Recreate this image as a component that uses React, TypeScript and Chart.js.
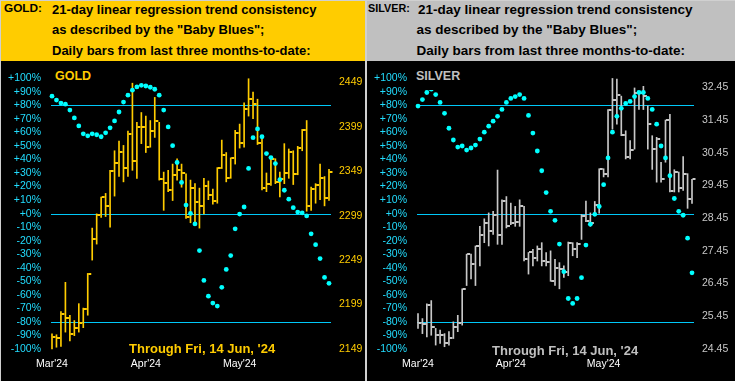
import React, { useEffect, useRef } from "react";
import { Chart, registerables } from "chart.js";

Chart.register(...registerables);

const FONT = '"Liberation Sans", Arial, Helvetica, sans-serif';

// ---- categories / ticks ----
const sessions: string[] = Array.from({ length: 63 }, (_, i) => `Session ${i + 1}`);
const monthTickLabels = ["Mar'24", "Apr'24", "May'24"];
const monthTickIndex = [0, 21, 42];
const pctTicks = [-100, -90, -80, -70, -60, -50, -40, -30, -20, -10, 0, 10, 20, 30, 40, 50, 60, 70, 80, 90, 100];
const refLevels = [80, 0, -80];
const goldPriceTicks = [2149, 2199, 2249, 2299, 2349, 2399, 2449];
const silverPriceTicks = [24.45, 25.45, 26.45, 27.45, 28.45, 29.45, 30.45, 31.45, 32.45];

// ---- GOLD daily bars ----
const goldHigh = [2166, 2165, 2191, 2224, 2187, 2181, 2200, 2195, 2234, 2285, 2301, 2320, 2324, 2350, 2372, 2383, 2378, 2394, 2448, 2404, 2415, 2411, 2406, 2432, 2404, 2348, 2350, 2357, 2363, 2357, 2346, 2339, 2335, 2330, 2341, 2338, 2329, 2353, 2384, 2370, 2364, 2395, 2402, 2426, 2453, 2438, 2430, 2387, 2347, 2364, 2363, 2348, 2380, 2374, 2372, 2377, 2396, 2406, 2331, 2335, 2357, 2343, 2351];
const goldLow = [2149, 2151, 2152, 2168, 2158, 2164, 2168, 2173, 2187, 2249, 2267, 2297, 2298, 2286, 2321, 2343, 2337, 2343, 2350, 2341, 2380, 2370, 2376, 2387, 2339, 2305, 2326, 2316, 2339, 2331, 2296, 2291, 2291, 2285, 2301, 2317, 2312, 2313, 2352, 2337, 2341, 2357, 2375, 2376, 2411, 2408, 2379, 2328, 2326, 2333, 2335, 2320, 2335, 2341, 2334, 2345, 2372, 2304, 2305, 2313, 2317, 2310, 2316];
const goldClose = [2163, 2161, 2188, 2184, 2166, 2173, 2178, 2194, 2233, 2273, 2300, 2320, 2310, 2349, 2358, 2371, 2353, 2391, 2360, 2399, 2399, 2376, 2394, 2406, 2340, 2336, 2328, 2345, 2350, 2347, 2297, 2330, 2314, 2310, 2332, 2322, 2316, 2353, 2367, 2341, 2364, 2392, 2381, 2419, 2430, 2425, 2381, 2330, 2335, 2363, 2337, 2340, 2347, 2371, 2346, 2375, 2395, 2310, 2329, 2333, 2341, 2319, 2348];
const goldBlues = [86.8, 83.9, 81.7, 80.9, 76.5, 70.7, 64.8, 59.0, 57.5, 59.0, 58.3, 56.8, 59.7, 63.4, 68.5, 75.1, 82.4, 87.5, 91.2, 93.6, 94.8, 94.3, 93.4, 91.9, 87.5, 76.5, 64.1, 50.2, 37.8, 23.1, 6.3, 0.2, -7.6, -27.3, -49.3, -61.0, -66.1, -68.3, -54.4, -41.2, -31.0, -11.2, -0.3, 4.9, 33.4, 56.1, 62.6, 56.8, 44.4, 41.4, 37.0, 25.1, 17.3, 10.7, 4.4, 1.2, 0.5, -1.7, -14.9, -22.9, -33.2, -47.1, -51.5];

// ---- SILVER daily bars ----
const silverHigh = [25.53, 25.38, 25.83, 25.93, 25.08, 25.03, 24.92, 24.98, 25.28, 25.48, 26.29, 27.35, 27.35, 27.60, 28.20, 28.43, 28.61, 28.66, 29.92, 29.01, 29.11, 28.91, 28.81, 29.01, 28.81, 27.40, 27.50, 27.60, 27.70, 27.40, 27.45, 27.19, 27.09, 26.99, 27.72, 27.70, 27.70, 28.56, 28.97, 28.61, 28.96, 29.96, 29.96, 31.77, 32.72, 32.70, 32.18, 31.12, 30.82, 32.43, 32.33, 32.48, 31.88, 30.97, 30.92, 30.16, 31.45, 31.62, 29.93, 29.86, 30.33, 29.81, 29.64];
const silverLow = [25.08, 24.92, 24.82, 24.87, 24.57, 24.62, 24.52, 24.57, 24.77, 24.98, 25.18, 26.39, 26.59, 26.39, 26.99, 27.70, 27.60, 27.95, 27.65, 27.65, 28.15, 28.25, 28.20, 28.20, 27.14, 26.74, 26.99, 27.14, 26.99, 26.99, 26.52, 26.39, 26.29, 26.64, 26.69, 27.30, 27.24, 27.80, 28.34, 28.20, 28.61, 28.60, 29.71, 29.71, 31.17, 31.32, 30.97, 30.26, 30.26, 30.56, 31.77, 31.77, 30.56, 29.94, 29.55, 29.55, 30.16, 29.25, 29.25, 29.25, 29.30, 28.75, 28.90];
const silverClose = [25.23, 25.20, 25.80, 25.13, 24.87, 24.87, 24.62, 24.79, 25.13, 25.23, 26.27, 27.35, 27.04, 27.60, 27.95, 28.30, 28.05, 28.56, 27.95, 28.96, 28.20, 28.30, 28.32, 28.81, 27.21, 27.40, 27.24, 27.50, 27.14, 27.11, 26.54, 26.94, 26.91, 26.79, 27.70, 27.50, 27.65, 28.53, 28.37, 28.30, 28.86, 29.94, 29.81, 31.77, 32.05, 32.20, 30.99, 30.31, 30.53, 32.28, 32.28, 32.18, 31.32, 30.56, 30.87, 29.64, 31.44, 29.27, 29.86, 29.37, 29.81, 29.03, 29.64];
const silverBlues = [79.5, 84.3, 89.5, 92.0, 88.0, 82.2, 74.1, 63.1, 54.4, 49.2, 50.0, 47.0, 48.5, 50.7, 55.1, 60.2, 64.6, 68.3, 71.9, 77.0, 82.2, 85.1, 86.5, 88.0, 85.1, 72.6, 59.5, 46.3, 31.7, 15.6, 1.7, -4.9, -22.5, -42.9, -62.7, -66.3, -62.7, -47.3, -23.2, -7.8, -0.5, 5.3, 21.4, 41.2, 60.2, 71.9, 77.8, 81.4, 82.9, 86.5, 89.5, 89.5, 85.1, 77.0, 66.1, 50.0, 41.2, 28.0, 11.2, 1.7, -1.2, -18.1, -43.7];

const GOLD = "#FFCC00";
const SILVER = "#C8C8C8";
const CYAN_DOT = "#00FFFF";
const CYAN_LINE = "#00C8F8";
const CYAN_TEXT = "#22DDFF";

// reference lines at +80%, 0%, -80% drawn through the percent scale
const refLinePlugin = {
  id: "refLines",
  beforeDatasetsDraw(chart: any) {
    const s = chart.scales.yPct;
    const a = chart.chartArea;
    const ctx = chart.ctx;
    ctx.save();
    ctx.strokeStyle = CYAN_LINE;
    ctx.lineWidth = 1;
    refLevels.forEach((v) => {
      const y = Math.round(s.getPixelForValue(v)) + 0.5;
      ctx.beginPath();
      ctx.moveTo(a.left - 1, y);
      ctx.lineTo(a.right + 2, y);
      ctx.stroke();
    });
    ctx.restore();
  },
};

type PanelProps = {
  high: number[];
  low: number[];
  close: number[];
  blues: number[];
  priceMin: number;
  priceMax: number;
  priceTicks: number[];
  decimals: number;
  color: string;
  width: number;
  rightWidth: number;
  rightPad: number;
};

function PanelChart(p: PanelProps) {
  const ref = useRef<HTMLCanvasElement>(null);
  useEffect(() => {
    const tick = document.createElement("canvas");
    tick.width = 9;
    tick.height = 2;
    const g = tick.getContext("2d")!;
    g.fillStyle = p.color;
    g.fillRect(5, 0, 3, 2);

    const chart = new Chart(ref.current!, {
      type: "bar",
      data: {
        labels: sessions,
        datasets: [
          {
            type: "line",
            label: "Baby Blues",
            data: p.blues,
            yAxisID: "yPct",
            showLine: false,
            pointRadius: 2.4,
            pointBackgroundColor: CYAN_DOT,
            pointBorderWidth: 0,
            order: 0,
            clip: false,
          } as any,
          {
            type: "line",
            label: "Close",
            data: p.close,
            yAxisID: "yPrice",
            showLine: false,
            pointStyle: tick,
            pointRadius: 4,
            order: 1,
            clip: false,
          } as any,
          {
            type: "bar",
            label: "High-Low",
            data: p.low.map((l, i) => [l, p.high[i]]),
            yAxisID: "yPrice",
            backgroundColor: p.color,
            barThickness: 1,
            order: 2,
            clip: false,
          } as any,
        ],
      },
      plugins: [refLinePlugin],
      options: {
        responsive: false,
        animation: false,
        devicePixelRatio: 1,
        events: [],
        layout: { padding: { top: 14, left: 0, right: 0, bottom: 0 } },
        plugins: { legend: { display: false }, tooltip: { enabled: false } },
        scales: {
          x: {
            type: "category",
            offset: false,
            grid: { display: false, drawTicks: false },
            border: { display: false },
            ticks: {
              autoSkip: false,
              maxRotation: 0,
              minRotation: 0,
              padding: 9,
              color: "#FFFFFF",
              font: { family: FONT, size: 10.5 },
              callback: (_v: any, i: number) => {
                const k = monthTickIndex.indexOf(i);
                return k >= 0 ? monthTickLabels[k] : "";
              },
            },
            afterFit: (s: any) => {
              s.height = 32;
            },
          },
          yPct: {
            type: "linear",
            position: "left",
            min: -100,
            max: 100,
            afterBuildTicks: (s: any) => {
              s.ticks = pctTicks.map((v) => ({ value: v }));
            },
            grid: { display: false, drawTicks: false },
            border: { display: false },
            ticks: {
              autoSkip: false,
              padding: 11,
              color: CYAN_TEXT,
              font: { family: FONT, size: 10.5 },
              callback: (v: any) => (v >= 0 ? `+${v}%` : `${v}%`),
            },
            afterFit: (s: any) => {
              s.width = 51;
            },
          },
          yPrice: {
            type: "linear",
            position: "right",
            min: p.priceMin,
            max: p.priceMax,
            afterBuildTicks: (s: any) => {
              s.ticks = p.priceTicks.map((v) => ({ value: v }));
            },
            grid: { display: false, drawTicks: false },
            border: { display: false },
            ticks: {
              autoSkip: false,
              padding: p.rightPad,
              color: p.color,
              font: { family: FONT, size: 10.5 },
              callback: (v: any) => Number(v).toFixed(p.decimals),
            },
            afterFit: (s: any) => {
              s.width = p.rightWidth;
            },
          },
        },
      } as any,
    });
    return () => chart.destroy();
  }, []);
  return (
    <canvas
      ref={ref}
      width={p.width}
      height={320}
      style={{ display: "block", width: p.width, height: 320, background: "#000" }}
    />
  );
}

const headerLine = (top: number, left: number, size: number, text: string) => (
  <div
    style={{
      position: "absolute",
      top,
      left,
      fontFamily: FONT,
      fontWeight: "bold",
      fontSize: size,
      lineHeight: `${size}px`,
      whiteSpace: "nowrap",
      color: "#000",
    }}
  >
    {text}
  </div>
);

export default function App() {
  return (
    <div
      style={{
        position: "absolute",
        left: 0,
        top: 0,
        width: 735,
        height: 381,
        background: "#D0D0D0",
        overflow: "hidden",
      }}
    >
      {/* GOLD panel */}
      <div style={{ position: "absolute", left: 1, top: 1, width: 364, height: 380, background: "#000" }}>
        <div style={{ position: "absolute", left: 0, top: 0, width: 364, height: 60, background: GOLD }}>
          {headerLine(2, 3, 11.8, "GOLD:")}
          {headerLine(1.5, 51, 13, "21-day linear regression trend consistency")}
          {headerLine(22, 51, 13, 'as described by the "Baby Blues";')}
          {headerLine(42.5, 51, 13, "Daily bars from last three months-to-date:")}
        </div>
        <div style={{ position: "absolute", left: 0, top: 60 }}>
          <PanelChart
            high={goldHigh}
            low={goldLow}
            close={goldClose}
            blues={goldBlues}
            priceMin={2149}
            priceMax={2453.5}
            priceTicks={goldPriceTicks}
            decimals={0}
            color={GOLD}
            width={364}
            rightWidth={36}
            rightPad={10}
          />
        </div>
        <div
          style={{
            position: "absolute",
            left: 51,
            top: 65,
            width: 50,
            height: 24,
            background: "#000",
          }}
        >
          <div
            style={{
              position: "absolute",
              left: 3,
              top: 3.5,
              fontFamily: FONT,
              fontWeight: "bold",
              fontSize: 12.5,
              lineHeight: "12.5px",
              color: GOLD,
            }}
          >
            GOLD
          </div>
        </div>
        <div
          style={{
            position: "absolute",
            left: 128,
            top: 340.5,
            fontFamily: FONT,
            fontWeight: "bold",
            fontSize: 13,
            lineHeight: "13px",
            color: GOLD,
            whiteSpace: "nowrap",
          }}
        >
          Through Fri, 14 Jun, '24
        </div>
      </div>

      {/* SILVER panel */}
      <div style={{ position: "absolute", left: 367, top: 1, width: 368, height: 380, background: "#000" }}>
        <div style={{ position: "absolute", left: 0, top: 0, width: 368, height: 60, background: "#C0C0C0" }}>
          {headerLine(2, 1, 10.8, "SILVER:")}
          {headerLine(1.5, 51, 13.5, "21-day linear regression trend consistency")}
          {headerLine(22, 49.5, 13.5, 'as described by the "Baby Blues";')}
          {headerLine(42.5, 49.5, 13.5, "Daily bars from last three months-to-date:")}
        </div>
        <div style={{ position: "absolute", left: 0, top: 60 }}>
          <PanelChart
            high={silverHigh}
            low={silverLow}
            close={silverClose}
            blues={silverBlues}
            priceMin={24.45}
            priceMax={32.725}
            priceTicks={silverPriceTicks}
            decimals={2}
            color={SILVER}
            width={368}
            rightWidth={43}
            rightPad={10}
          />
        </div>
        <div
          style={{
            position: "absolute",
            left: 46,
            top: 65,
            width: 52,
            height: 24,
            background: "#000",
          }}
        >
          <div
            style={{
              position: "absolute",
              left: 3,
              top: 3.5,
              fontFamily: FONT,
              fontWeight: "bold",
              fontSize: 12.5,
              lineHeight: "12.5px",
              color: "#C0C0C0",
            }}
          >
            SILVER
          </div>
        </div>
        <div
          style={{
            position: "absolute",
            left: 125,
            top: 342.5,
            fontFamily: FONT,
            fontWeight: "bold",
            fontSize: 13,
            lineHeight: "13px",
            color: "#C0C0C0",
            whiteSpace: "nowrap",
          }}
        >
          Through Fri, 14 Jun, '24
        </div>
      </div>
    </div>
  );
}
